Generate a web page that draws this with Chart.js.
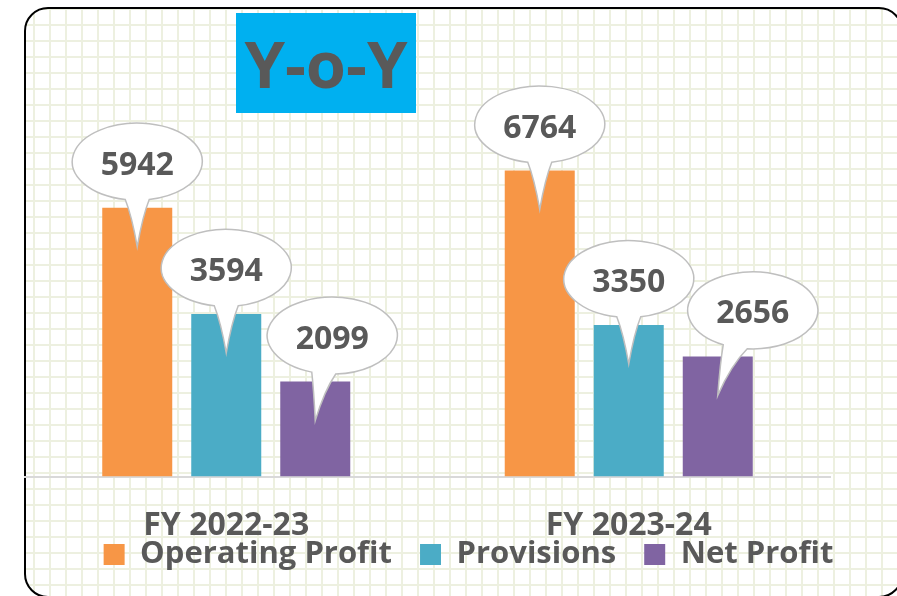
<!DOCTYPE html>
<html>
<head>
<meta charset="utf-8">
<script src="https://cdn.jsdelivr.net/npm/chart.js@4.4.1/dist/chart.umd.min.js"></script>
<style>
  html, body { margin: 0; padding: 0; background: #fff; overflow: hidden; }
  #wrap { position: relative; width: 897px; height: 596px; overflow: hidden; }
  #frame {
    position: absolute; left: 24px; top: 7px; width: 875px; height: 587px;
    border: 2px solid #000; border-radius: 24px;
    background-color: #fff;
    background-image: linear-gradient(90deg, #edf0e0 2px, transparent 2px),
                      linear-gradient(180deg, #edf0e0 2px, transparent 2px);
    background-size: 16px 16px;
    background-position: 7px 15px;
  }
  #title {
    position: absolute; left: 236px; top: 13px; width: 180px; height: 100px;
    background: #00b0f0; color: #595959;
    font: bold 65px 'Open Sans', sans-serif;
    display: flex; align-items: center; justify-content: center;
  }
  canvas { position: absolute; left: 0; top: 0; }
</style>
</head>
<body>
<div id="wrap">
  <div id="frame"></div>
  <div id="title">Y-o-Y</div>
  <canvas id="chart" width="897" height="596"></canvas>
</div>
<script>
const categories = ['FY 2022-23', 'FY 2023-24'];
const operatingProfit = [5942, 6764];
const provisions = [3594, 3350];
const netProfit = [2099, 2656];

// sideways offset of each speech bubble (dataset x category), pixels
const bubbleShift = [[0, 0], [0, 0], [17, 35]];

Chart.defaults.font.family = "'Open Sans', sans-serif";

// move the legend block to where it sits in the original
const legendNudge = {
  id: 'legendNudge',
  afterLayout(chart) {
    const lg = chart.legend;
    lg.left += 41; lg.right += 41;
    lg.top -= 64; lg.bottom -= 64;
  }
};

// speech-bubble value labels above each bar
const callouts = {
  id: 'callouts',
  afterDatasetsDraw(chart) {
    const ctx = chart.ctx;
    const rx = 65, ry = 38.5;
    ctx.save();
    chart.data.datasets.forEach((ds, i) => {
      chart.getDatasetMeta(i).data.forEach((bar, j) => {
        const shift = bubbleShift[i][j];
        const cx = bar.x + shift, cy = bar.y - 46;
        const tipX = bar.x, tipY = bar.y + 39;
        const b = -shift / 2;
        const tL = Math.acos((b - 12) / rx);
        const tR = Math.acos((b + 12) / rx);
        const lx = cx + rx * Math.cos(tL), ly = cy + ry * Math.sin(tL);
        const rX = cx + rx * Math.cos(tR), rY = cy + ry * Math.sin(tR);
        ctx.beginPath();
        ctx.ellipse(cx, cy, rx, ry, 0, tL, tR + Math.PI * 2);
        ctx.quadraticCurveTo(rX + (tipX - rX) * 0.55, rY + (tipY - rY) * 0.35, tipX, tipY);
        ctx.quadraticCurveTo(lx + (tipX - lx) * 0.55, ly + (tipY - ly) * 0.35, lx, ly);
        ctx.closePath();
        ctx.fillStyle = '#fff';
        ctx.fill();
        ctx.lineWidth = 1.5;
        ctx.strokeStyle = '#bfbfbf';
        ctx.stroke();
        ctx.fillStyle = '#595959';
        ctx.font = "bold 32px 'Open Sans'";
        ctx.textAlign = 'center';
        ctx.textBaseline = 'middle';
        ctx.fillText(String(ds.data[j]), cx, cy + 4);
      });
    });
    ctx.restore();
  }
};

new Chart(document.getElementById('chart'), {
  type: 'bar',
  data: {
    labels: categories,
    datasets: [
      { label: 'Operating Profit', data: operatingProfit, backgroundColor: '#f79646' },
      { label: 'Provisions', data: provisions, backgroundColor: '#4bacc6' },
      { label: 'Net Profit', data: netProfit, backgroundColor: '#8064a2' }
    ]
  },
  options: {
    responsive: false,
    animation: false,
    devicePixelRatio: 1,
    layout: { padding: { top: 24, left: 25, right: 67, bottom: -48 } },
    datasets: { bar: { barPercentage: 0.7865, categoryPercentage: 0.6634 } },
    scales: {
      x: {
        grid: { display: false, drawTicks: false },
        border: { color: '#d9d9d9', width: 2 },
        ticks: { color: '#595959', font: { size: 32, weight: 'bold' }, padding: 30 }
      },
      y: { display: false, min: 0, max: 10000 }
    },
    plugins: {
      legend: {
        position: 'bottom',
        labels: {
          boxWidth: 21, boxHeight: 21, padding: 28, color: '#595959',
          font: { size: 31, weight: 'bold' }
        }
      },
      tooltip: { enabled: false }
    }
  },
  plugins: [legendNudge, callouts]
});
</script>
</body>
</html>
